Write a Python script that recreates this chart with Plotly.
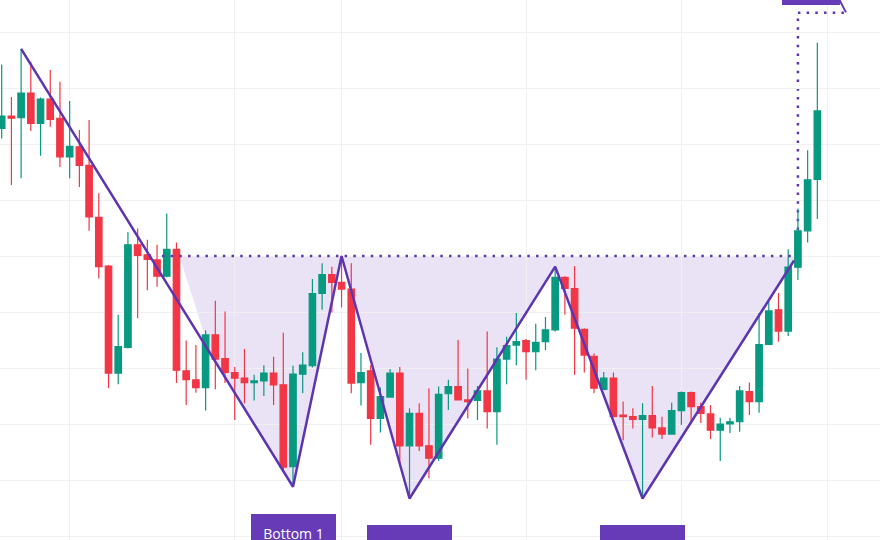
import numpy as np
import plotly.graph_objects as go

# ---------------- data ----------------
day = list(range(85))

open_ = [162.8, 165.0, 164.7, 169.1, 163.7, 168.0, 164.6, 157.7, 159.5, 156.2,
         146.9, 138.2, 119.1, 123.7, 142.0, 140.2, 139.3, 136.4, 141.2, 119.5,
         117.9, 116.5, 125.9, 121.7, 119.2, 118.2, 117.4, 117.7, 119.1, 117.0,
         102.4, 118.9, 120.4, 133.3, 136.7, 135.3, 134.1, 117.4, 119.5, 111.0,
         114.8, 119.1, 106.1, 111.9, 106.1, 103.9, 115.4, 116.7, 114.3, 114.2,
         115.9, 112.2, 121.6, 124.1, 124.9, 122.9, 124.7, 126.8, 136.2, 134.2,
         126.9, 122.1, 116.2, 118.2, 111.6, 111.3, 110.8, 111.5, 109.3, 108.2,
         112.4, 115.6, 113.1, 111.8, 108.9, 110.0, 110.4, 115.8, 114.0, 124.2,
         130.4, 126.6, 138.0, 144.5, 153.7]
high = [174.2, 168.4, 177.0, 174.7, 168.3, 173.2, 171.1, 167.7, 162.5, 164.3,
        151.2, 138.4, 129.5, 144.3, 144.9, 142.9, 142.0, 147.6, 142.4, 124.9,
        124.1, 126.7, 132.0, 130.1, 120.2, 123.4, 118.8, 120.5, 122.0, 126.3,
        120.4, 122.8, 135.9, 138.7, 138.1, 140.0, 138.7, 122.7, 120.5, 116.5,
        119.8, 120.2, 112.8, 113.7, 116.4, 116.7, 117.9, 125.0, 119.9, 116.8,
        126.5, 123.7, 125.6, 129.8, 125.2, 127.9, 129.1, 138.1, 136.4, 138.2,
        127.1, 122.6, 119.3, 119.2, 114.0, 112.8, 113.7, 116.8, 111.3, 113.8,
        115.8, 115.8, 113.8, 113.4, 111.1, 111.1, 116.8, 117.4, 129.8, 131.8,
        133.4, 141.2, 148.5, 158.9, 178.1]
low = [161.0, 152.7, 153.9, 162.3, 157.9, 163.1, 155.9, 153.9, 152.3, 144.5,
       136.0, 116.4, 117.1, 123.5, 128.9, 133.9, 134.5, 136.2, 117.3, 113.4,
       115.6, 112.4, 116.2, 117.3, 110.7, 113.7, 114.2, 115.0, 113.4, 101.8,
       98.8, 115.5, 120.1, 130.4, 129.9, 130.8, 115.5, 113.3, 106.3, 108.5,
       114.8, 103.1, 96.7, 105.2, 100.3, 103.4, 112.5, 114.3, 111.0, 110.7,
       109.2, 106.3, 117.1, 120.5, 117.9, 119.6, 123.2, 126.5, 129.5, 118.8,
       119.2, 115.5, 116.1, 111.3, 107.1, 109.2, 96.7, 107.6, 107.3, 108.2,
       109.8, 110.4, 110.2, 107.3, 103.4, 108.4, 108.6, 111.6, 112.0, 124.1,
       124.7, 125.7, 135.7, 142.4, 146.6]
close = [165.0, 164.6, 169.1, 163.7, 168.0, 164.4, 157.7, 159.6, 156.2, 147.0,
         138.1, 119.1, 123.8, 142.0, 140.1, 139.4, 136.4, 141.2, 119.6, 117.9,
         116.5, 125.9, 121.6, 119.2, 118.2, 117.4, 117.7, 119.1, 117.0, 102.3,
         118.9, 120.5, 133.3, 136.7, 135.3, 134.1, 117.3, 119.2, 111.0, 114.9,
         119.1, 106.1, 111.9, 106.1, 103.9, 115.3, 116.7, 114.3, 114.0, 115.9,
         112.2, 121.6, 124.0, 124.7, 122.9, 124.6, 126.8, 136.2, 134.2, 127.1,
         122.3, 116.4, 118.2, 111.3, 111.3, 110.8, 111.5, 109.3, 108.2, 112.4,
         115.6, 113.1, 111.9, 108.9, 110.0, 110.4, 115.9, 114.0, 124.2, 130.2,
         126.6, 138.0, 144.5, 153.6, 165.9]

# pattern pivots (candle index, which price)
pivot_idx = [2, 30, 35, 42, 57, 66]
pivot_kind = ["high", "low", "high", "low", "high", "low"]
breakout_x, breakout_y = 81.6, 139.2
neckline = 140.0
neck_start, neck_end = 16.5, 81.5
target = 183.45
target_x, target_end_x = 82.0, 86.8
fill_start_x, fill_join_x = 18.3, 21.5

bottom_labels = ["Bottom 1", "Bottom 2", "Bottom 3"]
bottom_idx = [30, 42, 66]
bottom_label_top = [93.85, 91.95, 92.05]

grid_x = [7, 24, 35, 54, 70, 85]

# ---------------- styling ----------------
GREEN = "#089981"
RED = "#F23645"
LINE = "#5E35B1"
LABEL = "#673AB7"

series = {"high": high, "low": low}
zz_x = [float(i) for i in pivot_idx] + [breakout_x]
zz_y = [series[k][i] for i, k in zip(pivot_idx, pivot_kind)] + [breakout_y]

fig = go.Figure()

fig.add_trace(go.Candlestick(
    x=day, open=open_, high=high, low=low, close=close,
    increasing=dict(line=dict(color=GREEN, width=1.2), fillcolor=GREEN),
    decreasing=dict(line=dict(color=RED, width=1.2), fillcolor=RED),
    whiskerwidth=0, showlegend=False, hoverinfo="skip",
))

fig.add_trace(go.Scatter(
    x=zz_x, y=zz_y, mode="lines",
    line=dict(color=LINE, width=2.5), showlegend=False, hoverinfo="skip",
))

# shaded pattern region
join_y = float(np.interp(fill_join_x, zz_x[:2], zz_y[:2]))
poly = [(fill_start_x, neckline), (fill_join_x, join_y)] + list(zip(zz_x[1:], zz_y[1:])) + [(breakout_x, neckline)]
path = "M " + " L ".join(f"{px},{py}" for px, py in poly) + " Z"

DOT = "2.5px,6.2px"
shapes = [
    dict(type="path", path=path, xref="x", yref="y", layer="below",
         fillcolor="rgba(103,58,183,0.14)", line=dict(width=0)),
    dict(type="line", xref="x", yref="y", x0=neck_start, x1=neck_end, y0=neckline, y1=neckline,
         line=dict(color=LINE, width=2.5, dash=DOT), layer="above"),
    dict(type="line", xref="x", yref="y", x0=target_x, x1=target_x, y0=neckline, y1=target,
         line=dict(color=LINE, width=2.5, dash=DOT), layer="below"),
    dict(type="line", xref="x", yref="y", x0=target_x, x1=target_end_x, y0=target, y1=target,
         line=dict(color=LINE, width=2.5, dash=DOT), layer="above"),
    # target label (mostly outside the visible area)
    dict(type="rect", xref="x", yref="y", x0=80.36, x1=86.33, y0=184.82, y1=192.0,
         fillcolor=LABEL, line=dict(width=0), layer="above"),
    dict(type="line", xref="x", yref="y", x0=86.2, x1=86.95, y0=186.0, y1=183.5,
         line=dict(color=LABEL, width=2), layer="above"),
]

annotations = []
for txt, i, yy in zip(bottom_labels, bottom_idx, bottom_label_top):
    annotations.append(dict(
        x=i, y=yy, xref="x", yref="y", text=txt, showarrow=False,
        font=dict(family="Open Sans", size=14, color="white"),
        bgcolor=LABEL, borderpad=10, borderwidth=0, width=65,
        xanchor="center", yanchor="top",
    ))

x0 = -1.7 / 9.71
fig.update_layout(
    width=880, height=540,
    margin=dict(l=0, r=0, t=0, b=0),
    paper_bgcolor="white", plot_bgcolor="white",
    showlegend=False,
    boxgap=0.3, boxgroupgap=0.05,
    shapes=shapes, annotations=annotations,
    xaxis=dict(range=[x0, x0 + 880 / 9.71], tickmode="array", tickvals=grid_x,
               showticklabels=False, showgrid=True, gridcolor="#F0F0F0", gridwidth=1,
               zeroline=False, showline=False, rangeslider=dict(visible=False), fixedrange=True),
    yaxis=dict(range=[100 - 60 / 5.6, 100 + 480 / 5.6], tick0=0, dtick=10,
               showticklabels=False, showgrid=True, gridcolor="#F0F0F0", gridwidth=1,
               zeroline=False, showline=False, fixedrange=True),
)

fig.write_html(
    "out.html",
    config={"displayModeBar": False},
    post_script="document.body.style.margin='0px';document.body.style.overflow='hidden';",
)
